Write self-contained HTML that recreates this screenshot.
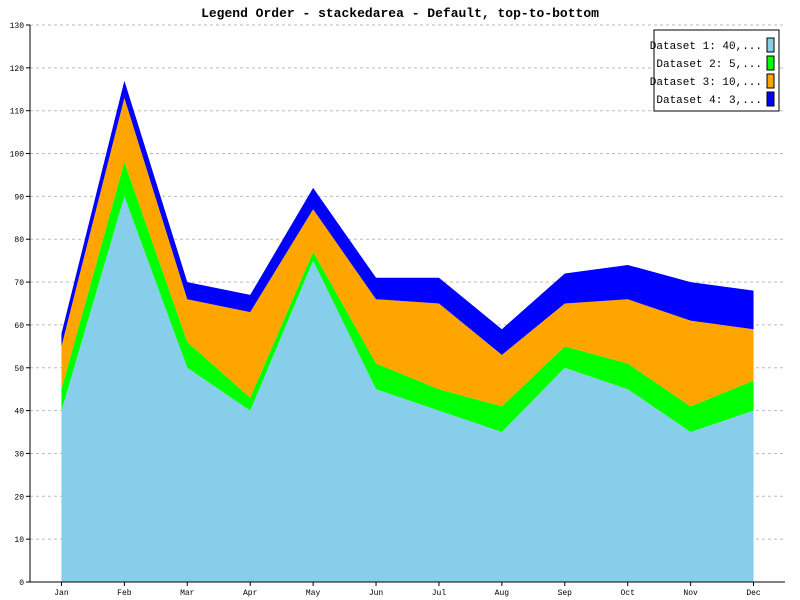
<!DOCTYPE html>
<html><head><meta charset="utf-8"><style>
html,body{margin:0;padding:0;background:#fff;}
svg{display:block;font-family:"Liberation Mono",monospace;}
</style></head><body>
<svg id="chart" width="800" height="600">
<text x="400" y="17" text-anchor="middle" font-size="13" font-weight="bold">Legend Order - stackedarea - Default, top-to-bottom</text>
<g id="grid"></g>
<g id="areas"></g>
<g id="axes"></g>
<g id="legend"></g>
</svg>
<script>
const categories=["Jan","Feb","Mar","Apr","May","Jun","Jul","Aug","Sep","Oct","Nov","Dec"];
const seriesNames=["Dataset 1: 40,...","Dataset 2: 5,...","Dataset 3: 10,...","Dataset 4: 3,..."];
const d1=[40,90,50,40,75,45,40,35,50,45,35,40];
const d2=[5,8,6,3,2,6,5,6,5,6,6,7];
const d3=[10,15,10,20,10,15,20,12,10,15,20,12];
const d4=[3,4,4,4,5,5,6,6,7,8,9,9];
const yTicks=[0,10,20,30,40,50,60,70,80,90,100,110,120,130];
const colors=["#87ceeb","#00ff00","#ffa500","#0000ff"];
const NS="http://www.w3.org/2000/svg";
const L=30,R=785,T=25,B=582,yMax=130;
const band=(R-L)/categories.length;
const x=i=>L+band*(i+0.5);
const y=v=>B-(v/yMax)*(B-T);
function mk(tag,attrs,parent){const e=document.createElementNS(NS,tag);for(const k in attrs)e.setAttribute(k,attrs[k]);parent.appendChild(e);return e;}
const grid=document.getElementById('grid'),areas=document.getElementById('areas'),axes=document.getElementById('axes'),legend=document.getElementById('legend');
yTicks.forEach(t=>{
  if(t>0){const g=mk('line',{x1:L,x2:R,y1:y(t),y2:y(t),stroke:'#bbb','stroke-dasharray':'3,3'},grid);
  
  }
  const tk=mk('line',{x1:L-4,x2:L,y1:y(t),y2:y(t),stroke:'#000'},axes);
  
  
  const lb=mk('text',{x:L-6,y:y(t)+3,'text-anchor':'end','font-size':8},axes);
  lb.textContent=t;
  
  
});
const series=[d1,d2,d3,d4];
let base=categories.map(()=>0);
series.forEach((s,si)=>{
  const top=base.map((b,i)=>b+s[i]);
  let p='';
  top.forEach((v,i)=>p+=(i?'L':'M')+x(i)+','+y(v));
  for(let i=base.length-1;i>=0;i--)p+='L'+x(i)+','+y(base[i]);
  p+='Z';
  const a=mk('path',{d:p,fill:colors[si],stroke:'none'},areas);
  
  
  base=top;
});
const ax1=mk('line',{x1:L,x2:L,y1:T,y2:B,stroke:'#000'},axes);


const ax2=mk('line',{x1:L,x2:R,y1:B,y2:B,stroke:'#000'},axes);


categories.forEach((c,i)=>{
  const tk=mk('line',{x1:x(i),x2:x(i),y1:B,y2:B+4,stroke:'#000'},axes);
  
  
  const lb=mk('text',{x:x(i),y:B+13,'text-anchor':'middle','font-size':8},axes);
  lb.textContent=c;
  
  
});
const box=mk('rect',{x:654,y:30,width:125,height:81,fill:'#fff',stroke:'#000'},legend);


seriesNames.forEach((n,i)=>{
  const yy=45+i*18;
  const t=mk('text',{x:762,y:yy+4,'text-anchor':'end','font-size':11},legend);
  t.textContent=n;
  
  
  const r=mk('rect',{x:767,y:yy-7,width:7,height:14,fill:colors[i],stroke:'#000'},legend);
  
  
});
</script>
</body></html>
